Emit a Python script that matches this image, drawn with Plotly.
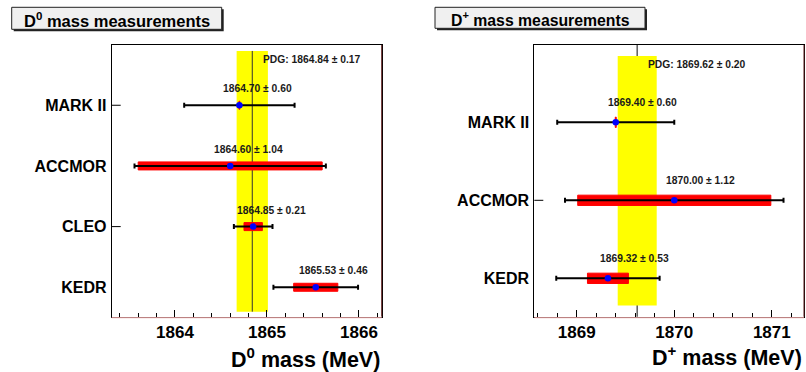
import plotly.graph_objects as go

W, H = 806, 372

# ---------------- data ----------------
d0_exp = ["MARK II", "ACCMOR", "CLEO", "KEDR"]
d0_mass = [1864.70, 1864.60, 1864.85, 1865.53]
d0_err = [0.60, 1.04, 0.21, 0.46]
d0_stat = [0.005, 1.00, 0.10, 0.24]
d0_pdg = 1864.84
d0_pdg_err = 0.17

dp_exp = ["MARK II", "ACCMOR", "KEDR"]
dp_mass = [1869.40, 1870.00, 1869.32]
dp_err = [0.60, 1.12, 0.53]
dp_stat = [0.005, 0.99, 0.21]
dp_pdg = 1869.62
dp_pdg_err = 0.20

FONT = "Liberation Sans, Arial, sans-serif"

def px_x(p):
    return p / W

def px_y(p):
    return 1 - p / H

fig = go.Figure()

panels = [
    dict(exp=d0_exp, mass=d0_mass, err=d0_err, stat=d0_stat, pdg=d0_pdg, pdg_err=d0_pdg_err,
         xa="x", ya="y", xdom=[111.7, 381.7], xrange=[1863.312, 1866.247], yrange=[0.515, 4.993],
         band=[0.598, 4.895], line_full=False, line_color="#333333", line_w=1,
         lab_dx=-18.5, lab_dy=16.5, pdg_y=59.3, tickcats=["MARK II", "CLEO"],
         title="D<sup>0</sup> mass measurements", box=[11.7, 221.7, 7.3, 29.3], tsize=16.5,
         xtitle="D<sup>0</sup> mass (MeV)", xt_y=358.0),
    dict(exp=dp_exp, mass=dp_mass, err=dp_err, stat=dp_stat, pdg=dp_pdg, pdg_err=dp_pdg_err,
         xa="x2", ya="y2", xdom=[534.3, 804.0], xrange=[1868.565, 1871.33], yrange=[0.508, 3.991],
         band=[0.65, 3.85], line_full=True, line_color="#666666", line_w=1.6,
         lab_dx=-10, lab_dy=20, pdg_y=64.3, tickcats=["ACCMOR"],
         title="D<sup>+</sup> mass measurements", box=[435.0, 645.0, 7.3, 28.3], tsize=15.8,
         xtitle="D<sup>+</sup> mass (MeV)", xt_y=355.5),
]

layout_axes = {}
shapes = []
annotations = []

for i, p in enumerate(panels):
    n = len(p["exp"])
    ypos = [n - k for k in range(n)]
    xa, ya = p["xa"], p["ya"]
    # stat boxes (red)
    fig.add_trace(go.Bar(
        orientation="h", y=ypos, x=[2 * s for s in p["stat"]],
        base=[m - s for m, s in zip(p["mass"], p["stat"])],
        width=0.132, marker=dict(color="#ff0000", line=dict(color="#ff0000", width=1)),
        xaxis=xa, yaxis=ya, showlegend=False, hoverinfo="skip"))
    # total errors + central values
    fig.add_trace(go.Scatter(
        x=p["mass"], y=ypos, mode="markers",
        marker=dict(color="#0000ff", size=6.5, symbol="circle"),
        error_x=dict(type="data", array=p["err"], color="black", thickness=2, width=2.5),
        xaxis=xa, yaxis=ya, showlegend=False, hoverinfo="skip"))

    xref_d = xa + " domain"
    yref_d = ya + " domain"

    # PDG band
    shapes.append(dict(type="rect", xref=xa, yref=ya,
                       x0=p["pdg"] - p["pdg_err"], x1=p["pdg"] + p["pdg_err"],
                       y0=p["band"][0], y1=p["band"][1],
                       fillcolor="#ffff00", line=dict(width=0), layer="below"))
    if p["line_full"]:
        shapes.append(dict(type="line", xref=xa, yref=yref_d, x0=p["pdg"], x1=p["pdg"],
                           y0=0, y1=1, line=dict(color=p["line_color"], width=p["line_w"]),
                           layer="below"))
    else:
        shapes.append(dict(type="line", xref=xa, yref=ya, x0=p["pdg"], x1=p["pdg"],
                           y0=p["band"][0], y1=p["band"][1],
                           line=dict(color=p["line_color"], width=p["line_w"]), layer="below"))

    # y ticks (only some categories show ticks)
    for c in p["tickcats"]:
        yv = ypos[p["exp"].index(c)]
        shapes.append(dict(type="line", xref=xref_d, yref=ya, x0=0, x1=9 / (p["xdom"][1] - p["xdom"][0]),
                           y0=yv, y1=yv, line=dict(color="black", width=1)))

    # pinkish frame line below axis and dark red right edge
    shapes.append(dict(type="line", xref="paper", yref="paper",
                       x0=px_x(p["xdom"][0]), x1=px_x(p["xdom"][1]),
                       y0=px_y(317.7), y1=px_y(317.7), line=dict(color="#e8a0a0", width=1)))
    shapes.append(dict(type="line", xref="paper", yref="paper",
                       x0=px_x(p["xdom"][1]), x1=px_x(p["xdom"][1]),
                       y0=px_y(316.7), y1=px_y(45), line=dict(color="#5a1a1a", width=1)))

    # value labels
    for m, e, yv in zip(p["mass"], p["err"], ypos):
        annotations.append(dict(x=m, y=yv, xref=xa, yref=ya, xanchor="left", yanchor="middle",
                                xshift=p["lab_dx"], yshift=p["lab_dy"], showarrow=False,
                                text=f"{m:.2f} ± {e:.2f}",
                                font=dict(family=FONT, size=10.3, color="#1a1a1a", weight="bold")))
    # PDG label
    annotations.append(dict(x=p["pdg"], y=px_y(p["pdg_y"]), xref=xa, yref="paper",
                            xanchor="left", yanchor="middle", xshift=9, showarrow=False,
                            text=f"PDG: {p['pdg']:.2f} ± {p['pdg_err']:.2f}",
                            font=dict(family=FONT, size=10.3, color="#1a1a1a", weight="bold")))

    # title box with shadow
    bx0, bx1, by0, by1 = p["box"]
    shapes.append(dict(type="rect", xref="paper", yref="paper",
                       x0=px_x(bx0 + 2), x1=px_x(bx1 + 2), y0=px_y(by1 + 2), y1=px_y(by0 + 2),
                       fillcolor="#222222", line=dict(width=0)))
    shapes.append(dict(type="rect", xref="paper", yref="paper",
                       x0=px_x(bx0), x1=px_x(bx1), y0=px_y(by1), y1=px_y(by0),
                       fillcolor="#f0f0f0", line=dict(color="#222222", width=1)))
    annotations.append(dict(x=px_x((bx0 + bx1) / 2), y=px_y((by0 + by1) / 2 + 1.5),
                            xref="paper", yref="paper", xanchor="center", yanchor="middle",
                            showarrow=False, text=p["title"],
                            font=dict(family=FONT, size=p["tsize"], color="black", weight="bold")))
    # x-axis title (right aligned)
    annotations.append(dict(x=px_x(p["xdom"][1]), y=px_y(p["xt_y"]), xref="paper", yref="paper",
                            xanchor="right", yanchor="middle", showarrow=False, text=p["xtitle"],
                            font=dict(family=FONT, size=21.5, color="black", weight="bold")))

    xkey = "xaxis" if xa == "x" else "xaxis2"
    ykey = "yaxis" if ya == "y" else "yaxis2"
    layout_axes[xkey] = dict(
        domain=[px_x(p["xdom"][0]), px_x(p["xdom"][1])], range=p["xrange"], anchor=ya,
        dtick=1, tick0=0, ticks="inside", ticklen=7, tickcolor="black", tickwidth=1,
        minor=dict(dtick=0.2, ticks="inside", ticklen=3.5, tickcolor="black", tickwidth=1),
        showline=True, linecolor="black", linewidth=1, mirror=True, showgrid=False, zeroline=False,
        automargin=False,
        tickfont=dict(family=FONT, size=17, color="black", weight="bold"), tickformat="d")
    layout_axes[ykey] = dict(
        domain=[px_y(316.7), px_y(45)], range=p["yrange"], anchor=xa,
        tickvals=ypos, ticktext=p["exp"], ticks="", showline=True, linecolor="black", linewidth=1,
        mirror=True, showgrid=False, zeroline=False, ticklabelstandoff=1, automargin=False,
        tickfont=dict(family=FONT, size=16, color="black", weight="bold"))

fig.update_layout(
    width=W, height=H, margin=dict(l=0, r=0, t=0, b=0, autoexpand=False),
    paper_bgcolor="white", plot_bgcolor="white", barmode="overlay",
    shapes=shapes, annotations=annotations, showlegend=False,
    **layout_axes)

fig.write_html("out.html", config={"displayModeBar": False},
               post_script="document.body.style.margin='0';document.body.style.padding='0';"
                           "document.body.style.overflow='hidden';")
